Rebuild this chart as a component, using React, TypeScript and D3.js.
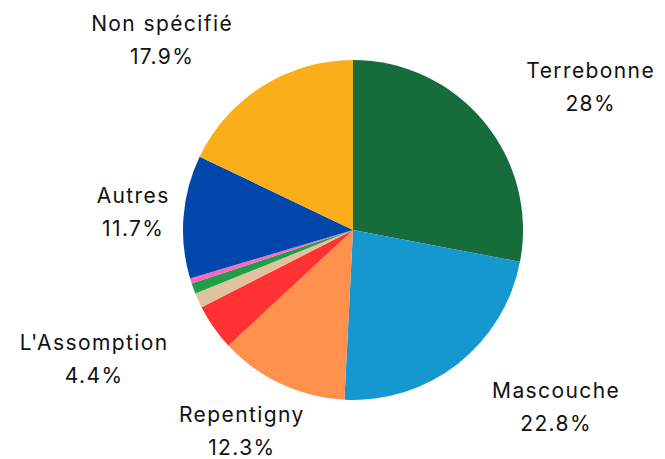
import React, { useEffect, useRef } from 'react';
import * as d3 from 'd3';

const labels = ['Terrebonne', 'Mascouche', 'Repentigny', "L'Assomption", 'Autre A', 'Autre B', 'Autre C', 'Autres', 'Non spécifié'];
const values = [28, 22.8, 12.3, 4.4, 1.4, 1.0, 0.5, 11.7, 17.9];
const colors = ['#176c3b', '#1597d0', '#ff914d', '#ff3131', '#e0c29f', '#1f9e48', '#ff66c4', '#0047ab', '#f9ae1a'];
const shownLabels = ['Terrebonne', 'Mascouche', 'Repentigny', "L'Assomption", 'Autres', 'Non spécifié'];

// small hand nudges where the labels were shifted to avoid collisions
const labelNudge: Record<string, [number, number]> = { Repentigny: [-16, -3], Autres: [41, 0] };

const width = 665;
const height = 459;

const App: React.FC = () => {
  const ref = useRef<SVGSVGElement | null>(null);

  useEffect(() => {
    if (!ref.current) return;
    const svg = d3.select(ref.current);
    svg.selectAll('*').remove();

    const cx = 353;
    const cy = 230;
    const radius = 170;
    const labelR = 225;

    const data = labels.map((l, i) => ({ label: l, value: values[i], color: colors[i] }));
    const pie = d3.pie<any>().value((d) => d.value).sort(null);
    const arcs = pie(data);
    const arc = d3.arc<any>().innerRadius(0).outerRadius(radius);

    const g = svg.append('g').attr('transform', `translate(${cx},${cy})`);

    g.selectAll('path')
      .data(arcs)
      .enter()
      .append('path')
      .attr('d', arc)
      .attr('fill', (d: any) => d.data.color);

    const labelArc = d3.arc<any>().innerRadius(labelR).outerRadius(labelR);

    arcs
      .filter((d) => shownLabels.includes(d.data.label))
      .forEach((d) => {
        const [x, y] = labelArc.centroid(d);
        const mid = (d.startAngle + d.endAngle) / 2;
        let anchor = x > 0 ? 'start' : 'end';
        if (Math.abs(Math.sin(mid)) < 0.5 && Math.cos(mid) < 0) anchor = 'middle';
        const [nx, ny] = labelNudge[d.data.label] || [0, 0];
        const tx = x + nx;
        const ty = y + ny;
        const t = g
          .append('text')
          .attr('text-anchor', anchor)
          .attr('font-family', 'Inter, sans-serif')
          .attr('font-size', 21)
          .attr('letter-spacing', 1.4)
          .attr('fill', '#111');
        t.append('tspan').attr('x', tx).attr('y', ty - 9).text(d.data.label);
        t.append('tspan').attr('x', tx).attr('y', ty + 24).text(`${d.data.value}%`);
      });

    // center the second line under the first
    g.selectAll('text').each(function () {
      const text = d3.select(this);
      const spans = text.selectAll<SVGTSpanElement, unknown>('tspan').nodes();
      const anchor = text.attr('text-anchor');
      if (anchor === 'middle') return;
      const w0 = spans[0].getComputedTextLength();
      const x0 = +spans[0].getAttribute('x')!;
      const centre = anchor === 'start' ? x0 + w0 / 2 : x0 - w0 / 2;
      text.attr('text-anchor', 'middle');
      spans.forEach((s) => s.setAttribute('x', String(centre)));
    });
  }, []);

  return (
    <svg
      ref={ref}
      width={width}
      height={height}
      style={{ position: 'absolute', left: 0, top: 0, background: '#fff' }}
    />
  );
};

export default App;
